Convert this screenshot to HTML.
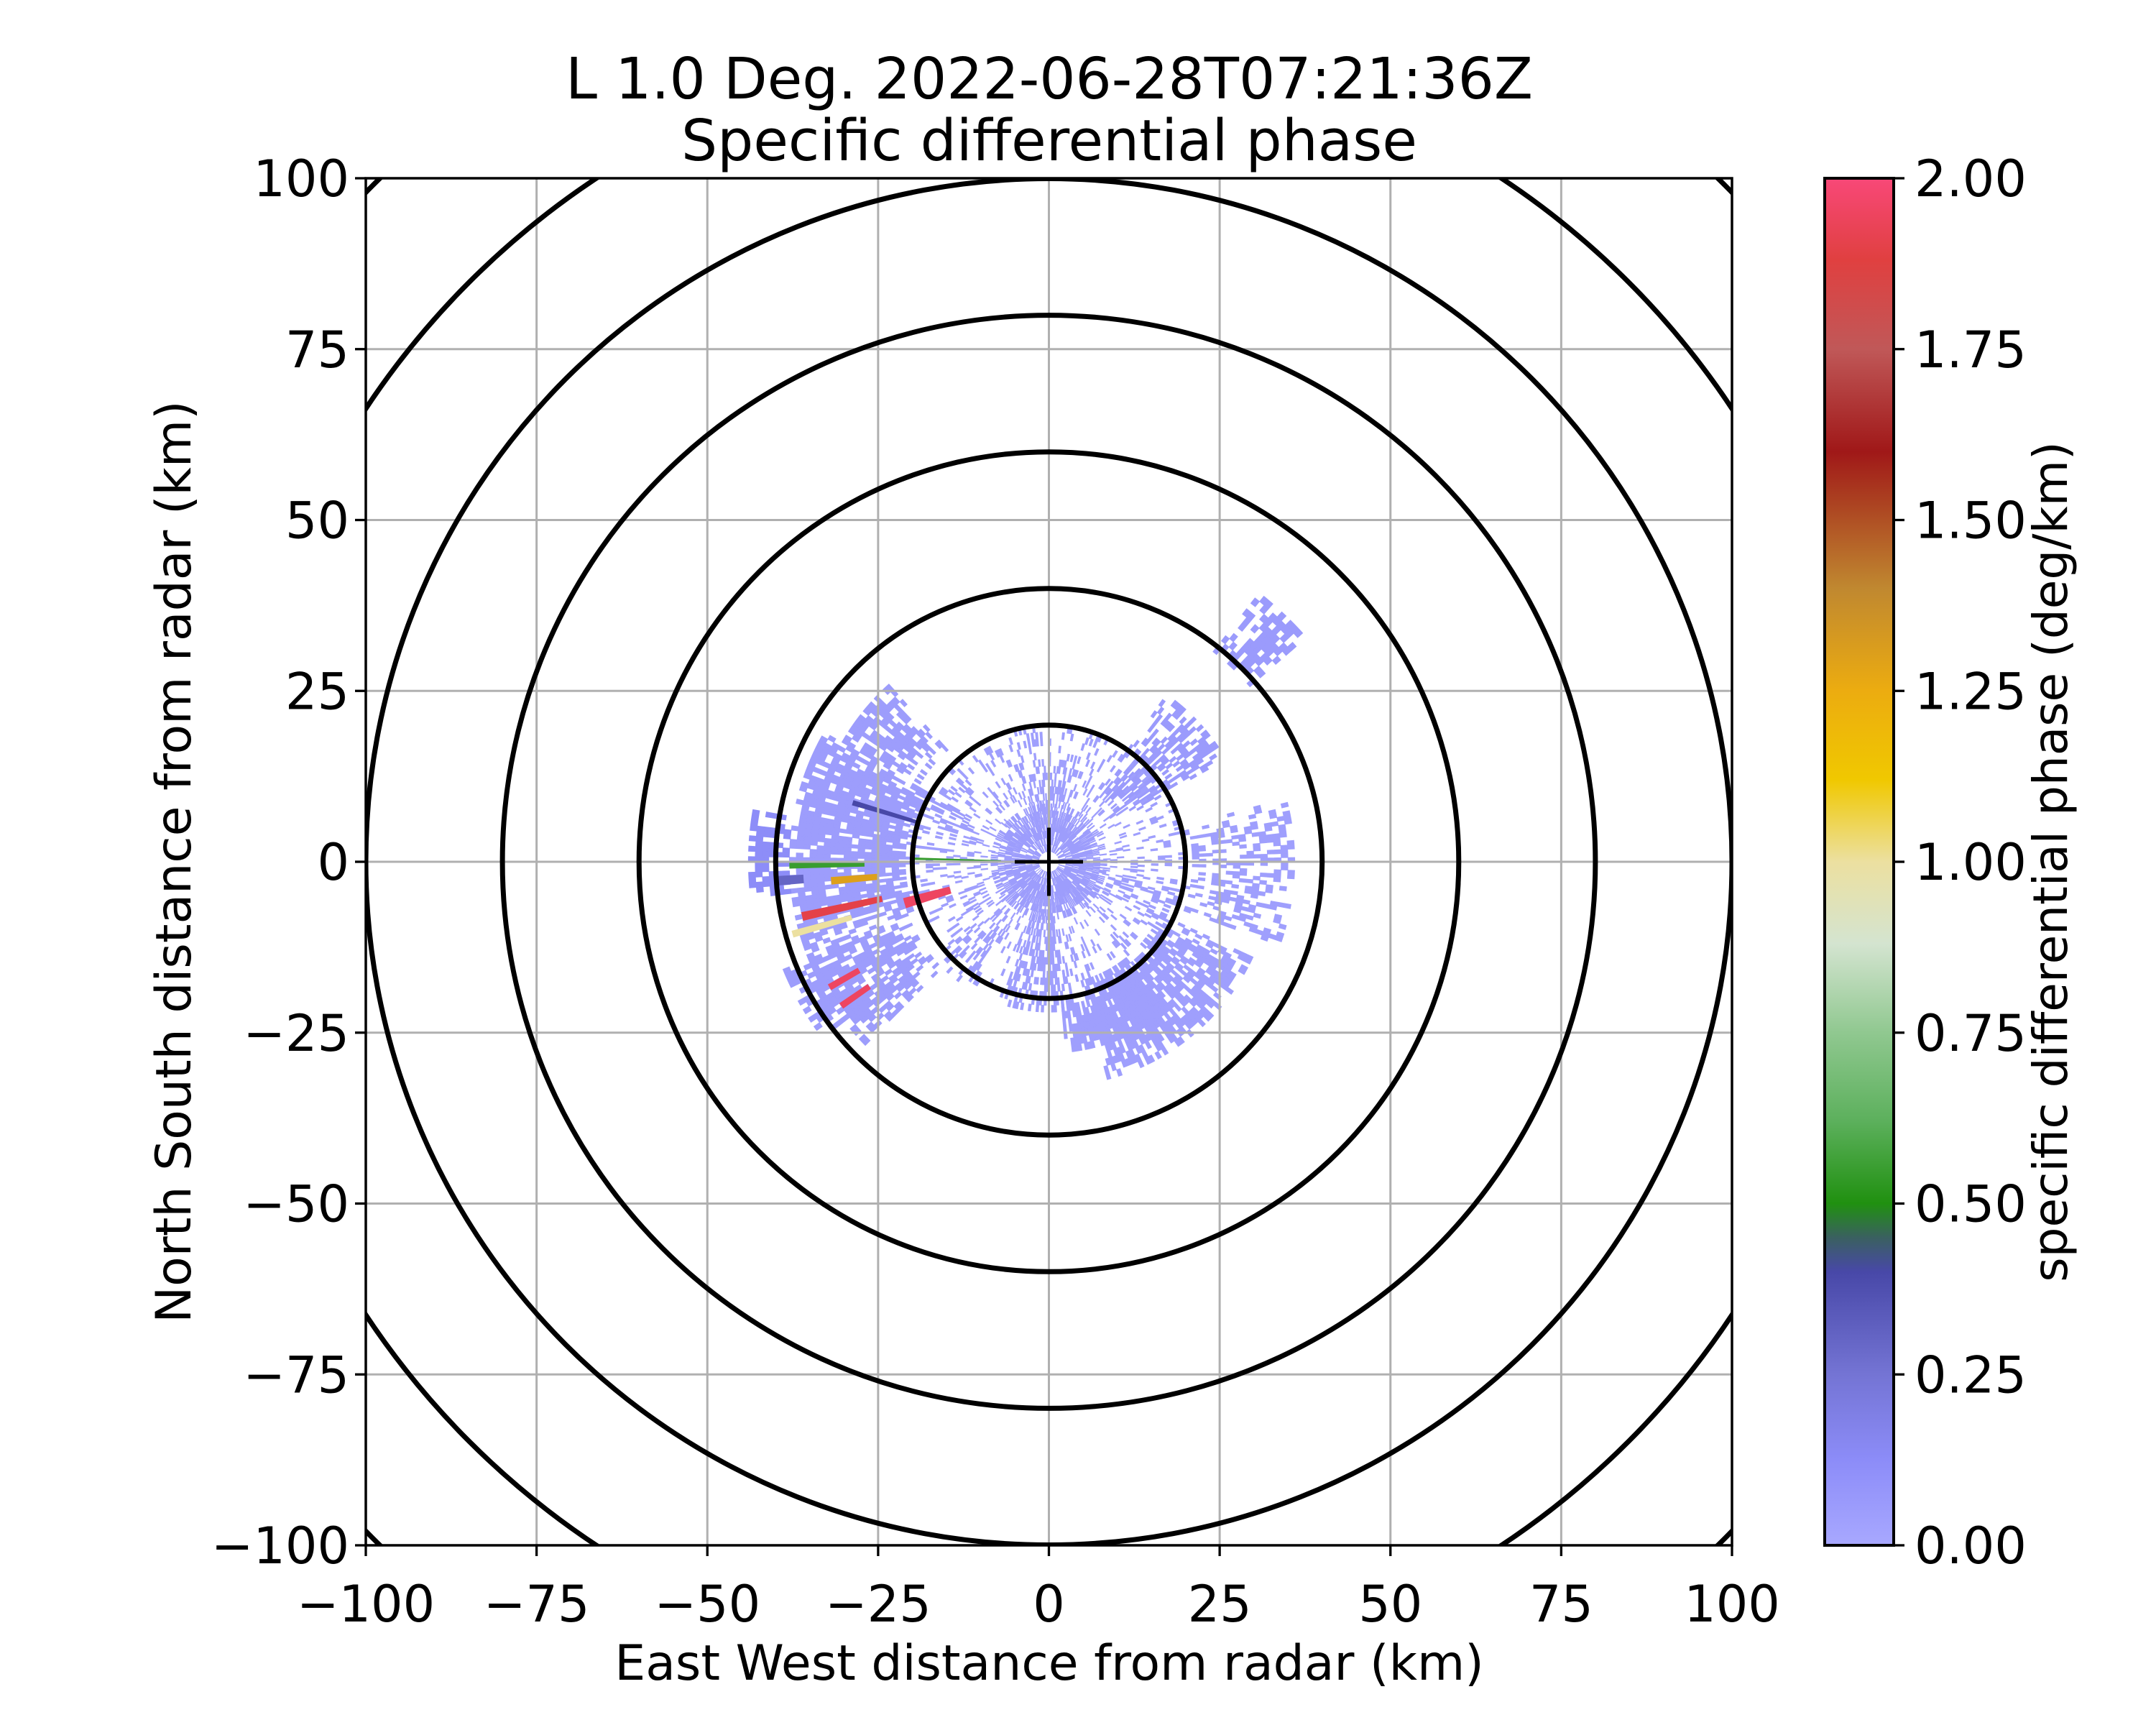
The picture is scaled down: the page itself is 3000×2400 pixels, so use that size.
<!DOCTYPE html>
<html><head><meta charset="utf-8">
<style>
html,body{margin:0;padding:0;background:#fff;overflow:hidden;width:3000px;height:2400px;}
svg{display:block;position:absolute;left:0;top:0;font-family:"DejaVu Sans","Liberation Sans",sans-serif;}
</style></head>
<body>
<svg id="chart" width="3000" height="2400" viewBox="0 0 3000 2400" xmlns="http://www.w3.org/2000/svg">
<defs>
<clipPath id="plotclip"><rect x="509" y="248" width="1901" height="1902"/></clipPath>
<linearGradient id="cbgrad" x1="0" y1="1" x2="0" y2="0">
<stop offset="0" stop-color="#a8a8ff"/>
<stop offset="0.0625" stop-color="#8c8cf8"/>
<stop offset="0.125" stop-color="#7474d4"/>
<stop offset="0.2" stop-color="#4848a8"/>
<stop offset="0.225" stop-color="#3a6060"/>
<stop offset="0.25" stop-color="#209010"/>
<stop offset="0.31" stop-color="#5cb05c"/>
<stop offset="0.375" stop-color="#90c890"/>
<stop offset="0.44" stop-color="#d4e4d0"/>
<stop offset="0.5" stop-color="#ece0a0"/>
<stop offset="0.56" stop-color="#f0c800"/>
<stop offset="0.625" stop-color="#ecac10"/>
<stop offset="0.7" stop-color="#c08830"/>
<stop offset="0.8" stop-color="#a01818"/>
<stop offset="0.875" stop-color="#c05858"/>
<stop offset="0.94" stop-color="#e04040"/>
<stop offset="1" stop-color="#f84878"/>
</linearGradient>
</defs>
<g id="field" clip-path="url(#plotclip)"></g>
<g id="grid" clip-path="url(#plotclip)"></g>
<g id="rings" clip-path="url(#plotclip)"></g>
<g id="axes"></g>
<text x="1460" y="137" font-size="79" text-anchor="middle">L 1.0 Deg. 2022-06-28T07:21:36Z</text>
<text x="1460" y="223" font-size="79" text-anchor="middle">Specific differential phase</text>
<text x="1460" y="2337" font-size="68" text-anchor="middle">East West distance from radar (km)</text>
<text x="0" y="0" font-size="68" text-anchor="middle" transform="translate(265,1199) rotate(-90)">North South distance from radar (km)</text>
<rect x="2539" y="248" width="96" height="1902" fill="url(#cbgrad)" stroke="#000" stroke-width="4"/>
<g id="cbticks"></g>
<text x="0" y="0" font-size="66" text-anchor="middle" transform="translate(2876,1199) rotate(-90)">specific differential phase (deg/km)</text>
</svg>
<script>
// axis data
const xTicks = [-100, -75, -50, -25, 0, 25, 50, 75, 100];
const yTicks = [-100, -75, -50, -25, 0, 25, 50, 75, 100];
const ringRadii = [20, 40, 60, 80, 100, 120, 140];
const cbTicks = [0, 0.25, 0.5, 0.75, 1.0, 1.25, 1.5, 1.75, 2.0];
// echo sectors: azimuth start/end (deg from north, clockwise), range start/end (km), KDP value, coverage
const echoAz0 = [250, 262, 300, 225, 232, 115, 140, 75, 35, 38, 0, 0, 170, 340, 290, 210, 100];
const echoAz1 = [300, 280, 318, 250, 248, 165, 175, 110, 60, 49, 360, 360, 200, 380, 300, 230, 120];
const echoR0 = [20, 38, 22, 22, 35, 18, 20, 20, 12, 39, 1.5, 8, 5, 5, 12, 12, 8];
const echoR1 = [38, 44, 35, 38, 42, 33, 28, 36, 30, 50, 8, 20, 22, 15, 22, 22, 20];
const echoVal = [0.05, 0.12, 0.05, 0.05, 0.05, 0.04, 0.04, 0.04, 0.06, 0.06, 0.05, 0.04, 0.04, 0.04, 0.05, 0.04, 0.04];
const echoCov = [0.85, 0.7, 0.75, 0.7, 0.7, 0.75, 0.8, 0.45, 0.6, 0.7, 0.7, 0.18, 0.45, 0.35, 0.6, 0.3, 0.3];
// high-KDP streaks
const stAz0 = [252, 256.5, 253.5, 264, 268.5, 239.5, 234.5, 270.8, 286, 265];
const stAz1 = [256, 258.5, 255, 266, 270, 241, 236, 271.8, 287.5, 267];
const stR0 = [15, 25, 30, 25, 27, 32, 32, 7, 20, 36];
const stR1 = [22, 37, 39, 32, 38, 37, 37, 20, 30, 40];
const stVal = [1.95, 1.9, 1.0, 1.3, 0.55, 1.95, 1.95, 0.55, 0.4, 0.3];

const NS = "http://www.w3.org/2000/svg";
const X0 = 509, X1 = 2410, Y0 = 248, Y1 = 2150;
const sx = v => X0 + (v + 100) / 200 * (X1 - X0);
const sy = v => Y1 - (v + 100) / 200 * (Y1 - Y0);
const kx = (X1 - X0) / 200;
const cbY = v => 2150 - v / 2 * 1902;

const stops = [[0,'#a8a8ff'],[0.125,'#8c8cf8'],[0.25,'#7474d4'],[0.4,'#4848a8'],[0.45,'#3a6060'],[0.5,'#209010'],[0.62,'#5cb05c'],[0.75,'#90c890'],[0.88,'#d4e4d0'],[1,'#ece0a0'],[1.12,'#f0c800'],[1.25,'#ecac10'],[1.4,'#c08830'],[1.6,'#a01818'],[1.75,'#c05858'],[1.88,'#e04040'],[2,'#f84878']];
function cmap(v){
  const h = s => [parseInt(s.slice(1,3),16),parseInt(s.slice(3,5),16),parseInt(s.slice(5,7),16)];
  for (let i=1;i<stops.length;i++){ if (v<=stops[i][0]){ const a=stops[i-1],b=stops[i]; const t=(v-a[0])/(b[0]-a[0]); const ca=h(a[1]),cb=h(b[1]); return 'rgb('+ca.map((c,j)=>Math.round(c+(cb[j]-c)*t)).join(',')+')'; } }
  return stops[stops.length-1][1];
}
function mk(tag, attrs, parent){ const e=document.createElementNS(NS,tag); for(const k in attrs) e.setAttribute(k,attrs[k]); parent.appendChild(e); return e; }
function pt(az, r){ const a=az*Math.PI/180; return [sx(r*Math.sin(a)), sy(r*Math.cos(a))]; }
function sectorPath(a0,a1,r0,r1){
  const p1=pt(a0,r0),p2=pt(a0,r1),p3=pt(a1,r1),p4=pt(a1,r0);
  const R1=r1*kx,R0=r0*kx, large=(a1-a0)>180?1:0;
  return `M${p1[0]},${p1[1]}L${p2[0]},${p2[1]}A${R1},${R1} 0 ${large} 1 ${p3[0]},${p3[1]}L${p4[0]},${p4[1]}A${R0},${R0} 0 ${large} 0 ${p1[0]},${p1[1]}Z`;
}
// deterministic texture hash for speckle (visual texture only)
function hsh(a,b){ let n = (a*73856093) ^ (b*19349663); n = (n ^ (n>>>13)) * 1274126177; n = n ^ (n>>>16); return ((n>>>0)%1000)/1000; }
const field = document.getElementById('field');
for (let i=0;i<echoAz0.length;i++){
  let a1=echoAz1[i]; if (a1-echoAz0[i]>=360) a1=echoAz0[i]+359.9;
  const aStep = 1.0, rStep = 1.0;
  let d = '';
  for (let a=echoAz0[i]; a<a1; a+=aStep){
    const ka = Math.round(a/aStep);
    for (let r=echoR0[i]; r<echoR1[i]; r+=rStep){
      const kr = Math.round(r/rStep);
      const edge = Math.min(r-echoR0[i], echoR1[i]-r, (a-echoAz0[i])*0.4, (a1-a)*0.4);
      const cov = echoCov[i] * Math.min(1, 0.45 + edge*0.25);
      if (hsh(ka+i*1000, kr) >= cov) continue;
      d += sectorPath(a, a+aStep, r, r+rStep);
    }
  }
  const p = mk('path',{d:d,fill:cmap(echoVal[i]),stroke:cmap(echoVal[i]),'stroke-width':0.8},field);
  
  
}
for (let i=0;i<stAz0.length;i++){
  const p = mk('path',{d:sectorPath(stAz0[i],stAz1[i],stR0[i],stR1[i]),fill:cmap(stVal[i])},field);
  
  
}

const grid = document.getElementById('grid');
xTicks.forEach(t=>{
  const l = mk('line',{x1:sx(t),x2:sx(t),y1:Y0,y2:Y1,stroke:'#b0b0b0','stroke-width':3},grid);
  
  
});
yTicks.forEach(t=>{
  const l = mk('line',{y1:sy(t),y2:sy(t),x1:X0,x2:X1,stroke:'#b0b0b0','stroke-width':3},grid);
  
  
});
const rings = document.getElementById('rings');
ringRadii.forEach(r=>{
  const c = mk('circle',{cx:sx(0),cy:sy(0),r:r*kx,fill:'none',stroke:'#000','stroke-width':7},rings);
  
  
});
const ch1 = mk('line',{x1:sx(-5),x2:sx(5),y1:sy(0),y2:sy(0),stroke:'#000','stroke-width':5},rings);


const ch2 = mk('line',{x1:sx(0),x2:sx(0),y1:sy(-5),y2:sy(5),stroke:'#000','stroke-width':5},rings);



const axes = document.getElementById('axes');
const frame = mk('rect',{x:X0,y:Y0,width:X1-X0,height:Y1-Y0,fill:'none',stroke:'#000','stroke-width':3.5},axes);


const fmt = t => t<0 ? '\u2212'+Math.abs(t) : String(t);
xTicks.forEach(t=>{
  const l = mk('line',{x1:sx(t),x2:sx(t),y1:Y1,y2:Y1+15,stroke:'#000','stroke-width':3.3},axes);
  
  
  const tx = mk('text',{x:sx(t),y:2256,'font-size':70,'text-anchor':'middle'},axes);
  tx.textContent = fmt(t);
  
  
});
yTicks.forEach(t=>{
  const l = mk('line',{x1:X0-15,x2:X0,y1:sy(t),y2:sy(t),stroke:'#000','stroke-width':3.3},axes);
  
  
  const tx = mk('text',{x:486,y:sy(t)+25,'font-size':70,'text-anchor':'end'},axes);
  tx.textContent = fmt(t);
  
  
});
const cbt = document.getElementById('cbticks');
cbTicks.forEach(t=>{
  const l = mk('line',{x1:2635,x2:2650,y1:cbY(t),y2:cbY(t),stroke:'#000','stroke-width':3.3},cbt);
  
  
  const tx = mk('text',{x:2664,y:cbY(t)+25,'font-size':70},cbt);
  tx.textContent = t.toFixed(2);
  
  
});
</script>
</body></html>
